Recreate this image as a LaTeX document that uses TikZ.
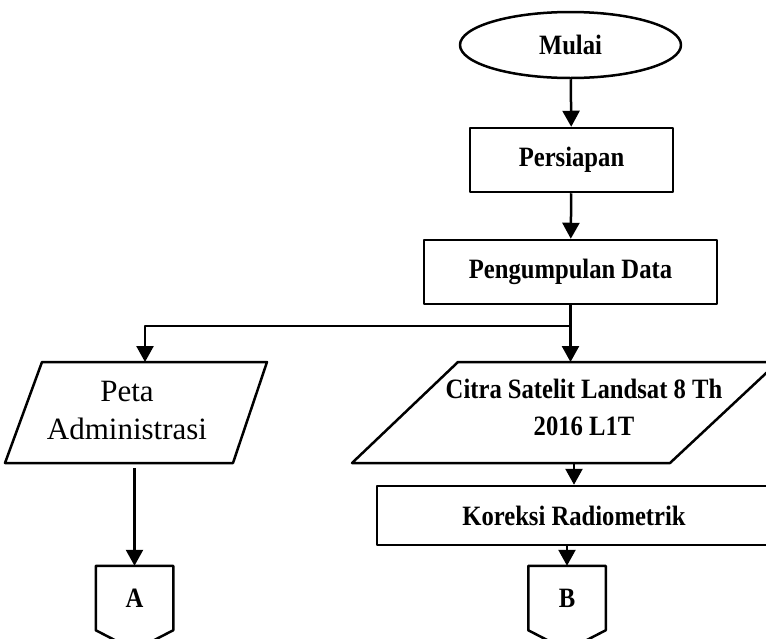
\documentclass[tikz,border=0pt]{standalone}
\usepackage{fontspec}
\setmainfont{Liberation Serif}
\newfontfamily\sempit[FakeStretch=0.88]{Liberation Serif}
\usetikzlibrary{shapes.geometric,arrows.meta,calc}
\begin{document}
\begin{tikzpicture}[x=1pt,y=-1pt,>={Triangle[width=17pt,length=16pt]},line join=round,line width=2.5pt,
    kotak/.style={draw,inner sep=0pt,font=\sempit\bfseries\fontsize{28}{33}\selectfont},
    teks/.style={align=center,inner sep=0pt},
    konektor/.style={inner sep=0pt,minimum width=75pt,minimum height=62pt,font=\sempit\bfseries\fontsize{28}{33}\selectfont}]
    \clip (0,0) rectangle (766,638);
    \node[kotak,ellipse,minimum width=221pt,minimum height=66pt] (mulai) at (570.5,45) {Mulai};
    \node[kotak,minimum width=203pt,minimum height=64pt] (persiapan) at (571.5,160) {Persiapan};
    \node[kotak,minimum width=293pt,minimum height=64pt] (data) at (570.5,272) {Pengumpulan Data};
    % input data
    \draw (5,463) -- (42,362) -- (267,362) -- (233,463) -- cycle;
    \node[teks,font=\fontsize{31}{38}\selectfont] (peta) at (127,410) {Peta\\Administrasi};
    \draw (352,463) -- (458,362) -- (778,362) -- (670,463) -- cycle;
    \node[teks,font=\sempit\bfseries\fontsize{28}{37}\selectfont] (citra) at (584,407) {Citra Satelit Landsat 8 Th\\2016 L1T};
    \coordinate (petaatas) at (145,362);
    \coordinate (petabawah) at (135,468);
    \coordinate (citraatas) at (570.5,362);
    \coordinate (citrabawah) at (574,463);
    \node[kotak,minimum width=394pt,minimum height=59pt] (koreksi) at (574,515.5) {Koreksi Radiometrik};
    % konektor halaman
    \node[konektor] (konA) at (134.5,598) {A};
    \node[konektor] (konB) at (567,598) {B};
    \foreach \k in {konA,konB}
        \draw (\k.north west) -- (\k.north east) -- (\k.south east) -- ($(\k.south)+(0,20)$) -- (\k.south west) -- cycle;
    \coordinate (cabang) at (570.5,326);
    \draw[->] (mulai) -- (persiapan);
    \draw[->] (persiapan) -- (data);
    \draw (data) -- (cabang);
    \draw[->] (cabang) -| (petaatas);
    \draw[->] (cabang) -- (citraatas);
    \draw[->] (citrabawah) -- (koreksi);
    \draw[->] (petabawah -| konA.north) -- (konA);
    \draw[->] (koreksi.south -| konB.north) -- (konB);
\end{tikzpicture}
\end{document}
